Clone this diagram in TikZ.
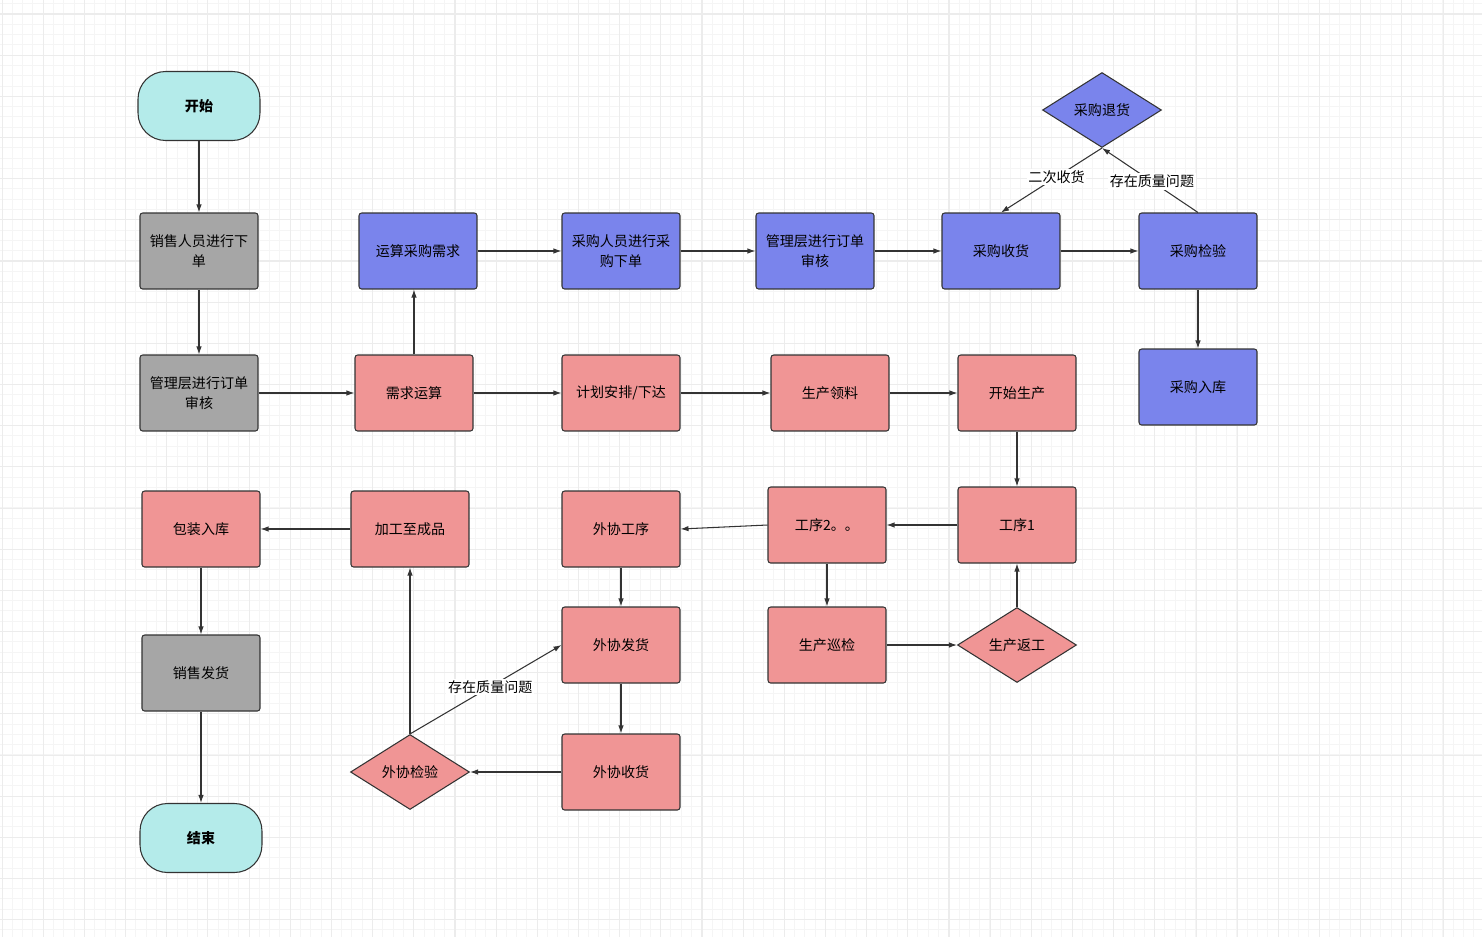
\documentclass[tikz,border=0pt]{standalone}
\usepackage{fontspec}
\newfontfamily\cjk{Noto Sans CJK SC}
\usepackage{tikz}
\usetikzlibrary{shapes.geometric}
\usetikzlibrary{arrows.meta}
\definecolor{qing}{HTML}{B4EBEA}
\definecolor{hui}{HTML}{A6A6A6}
\definecolor{lan}{HTML}{7A84EC}
\definecolor{fen}{HTML}{F09595}
\definecolor{xian}{HTML}{333333}

\begin{document}
\begin{tikzpicture}[x=0.02cm, y=-0.02cm,
  box/.style={draw=xian, line width=0.6pt, rounded corners=1.5pt, minimum width=2.36cm, minimum height=1.52cm, inner sep=1pt, align=center, font=\cjk\fontsize{8}{11}\selectfont},
  term/.style={box, rounded corners=0.55cm, minimum width=2.44cm, minimum height=1.38cm, fill=qing, font=\cjk\bfseries\fontsize{8}{11}\selectfont},
  dia/.style={draw=xian, line width=0.6pt, diamond, aspect=1.6, minimum width=2.38cm, minimum height=1.5cm, inner sep=0pt, font=\cjk\fontsize{8}{11}\selectfont},
  arr/.style={draw=xian, line width=0.6pt, -{Latex[length=1.6mm,width=1.1mm]}},
  lab/.style={fill=white, inner sep=1pt, font=\cjk\fontsize{8}{11}\selectfont}]

  \useasboundingbox (0,0) rectangle (1482,937);

  %grid
  \begin{scope}
    \clip (0,0) rectangle (1482,937);
    \foreach \i in {0,...,144}
        \draw[gray!8, line width=0.55pt] (2.1+\i*10.29,0) -- (2.1+\i*10.29,937);
    \foreach \i in {-1,...,90}
        \draw[gray!8, line width=0.55pt] (0,14+\i*10.29) -- (1482,14+\i*10.29);
    \foreach \i in {0,...,36}
        \draw[gray!15, line width=0.6pt] (2.1+\i*41.17,0) -- (2.1+\i*41.17,937);
    \foreach \i in {-1,...,23}
        \draw[gray!15, line width=0.6pt] (0,14+\i*41.17) -- (1482,14+\i*41.17);
  \end{scope}

  %start / end
  \node[term] (ks) at (199,106) {开始};
  \node[term] (js) at (201,838) {结束};

  %sales
  \foreach \x/\y/\name/\txt in {199/251/xs/{销售人员进行下\\单},199/393/gs/{管理层进行订单\\审核},201/673/fh/销售发货}{
      \node[box, fill=hui] (\name) at (\x,\y) {\txt};
  }

  %purchase
  \foreach \x/\y/\name/\txt in {418/251/ys/运算采购需求,621/251/cr/{采购人员进行采\\购下单},815/251/gl/{管理层进行订单\\审核},1001/251/cs/采购收货,1198/251/cj/采购检验,1198/387/rk/采购入库}{
      \node[box, fill=lan] (\name) at (\x,\y) {\txt};
  }
  \node[dia, fill=lan] (th) at (1102,110) {采购退货};

  %production
  \foreach \x/\y/\name/\txt in {414/393/xq/需求运算,621/393/jh/{计划安排/下达},830/393/ll/生产领料,1017/393/kssc/开始生产,1017/525/gx1/工序1,827/525/gx2/工序2。。,621/529/wx/外协工序,410/529/jg/加工至成品,201/529/bz/包装入库,621/645/wf/外协发货,621/772/ws/外协收货,827/645/xj/生产巡检}{
      \node[box, fill=fen] (\name) at (\x,\y) {\txt};
  }
  \node[dia, fill=fen] (wj) at (410,772) {外协检验};
  \node[dia, fill=fen] (fg) at (1017,645) {生产返工};

  %arrows
  \draw[arr] (ks) -- (xs);
  \draw[arr] (xs) -- (gs);
  \draw[arr] (gs) -- (xq);
  \draw[arr] (xq.north) -- (xq.north |- ys.south);
  \draw[arr] (ys) -- (cr);
  \draw[arr] (cr) -- (gl);
  \draw[arr] (gl) -- (cs);
  \draw[arr] (cs) -- (cj);
  \draw[arr] (cj) -- (rk);
  \draw[arr] (cj.north) -- node[lab, pos=0.48] {存在质量问题} (th.south);
  \draw[arr] (th.south) -- node[lab, pos=0.45] {二次收货} (cs.north);

  \draw[arr] (xq) -- (jh);
  \draw[arr] (jh) -- (ll);
  \draw[arr] (ll) -- (kssc);
  \draw[arr] (kssc) -- (gx1);
  \draw[arr] (gx1) -- (gx2);
  \draw[arr] (gx2.west) -- (wx.east);
  \draw[arr] (gx2) -- (xj);
  \draw[arr] (xj.east) -- (fg.west);
  \draw[arr] (fg) -- (gx1);
  \draw[arr] (wx) -- (wf);
  \draw[arr] (wf) -- (ws);
  \draw[arr] (ws) -- (wj);
  \draw[arr] (wj.north) -- node[lab, pos=0.53] {存在质量问题} (wf.west);
  \draw[arr] (wj.north) -- (jg.south);
  \draw[arr] (jg) -- (bz);
  \draw[arr] (bz) -- (fh);
  \draw[arr] (fh) -- (js);

\end{tikzpicture}
\end{document}
